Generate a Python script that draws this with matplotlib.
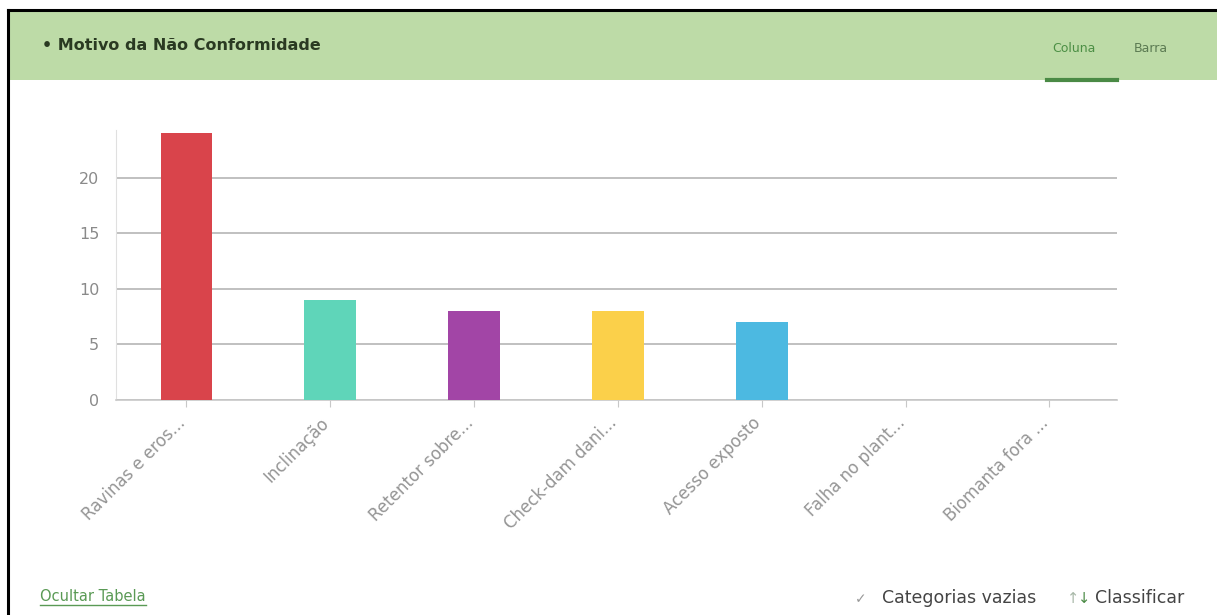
import matplotlib
matplotlib.use("Agg")
import matplotlib.pyplot as plt
from matplotlib.patches import Rectangle
from matplotlib.lines import Line2D
from matplotlib.transforms import ScaledTranslation

W, H = 1217, 615

categories = ["Ravinas e eros...", "Inclinação", "Retentor sobre...", "Check-dam dani...",
              "Acesso exposto", "Falha no plant...", "Biomanta fora ..."]
values = [24, 9, 8, 8, 7, 0, 0]
colors = ["#d9444b", "#5fd5b9", "#a245a6", "#fbd04a", "#4cb9e1", "#cccccc", "#cccccc"]
yticks = [0, 5, 10, 15, 20]


def fx(px):
    return px / W


def fy(py):
    return 1 - py / H


def main():
    fig = plt.figure(figsize=(W / 100, H / 100), dpi=100)
    fig.patch.set_facecolor("white")

    # header band
    fig.patches.append(Rectangle((fx(9), fy(80)), 1, fy(11) - fy(80),
                                 transform=fig.transFigure, facecolor="#bddba7",
                                 edgecolor="none", zorder=0))
    # black frame (left and top)
    fig.lines.append(Line2D([fx(8), fx(8)], [0, fy(10)], transform=fig.transFigure,
                            color="black", lw=2.2))
    fig.lines.append(Line2D([fx(8), 1], [fy(10), fy(10)], transform=fig.transFigure,
                            color="black", lw=2.2))

    fig.text(fx(42), fy(46), "• Motivo da Não Conformidade", fontsize=11.5,
             fontweight="bold", color="#2a3a22", va="center", ha="left")
    fig.text(fx(1074), fy(48), "Coluna", fontsize=9, color="#4c8f45",
             va="center", ha="center")
    fig.text(fx(1151), fy(48), "Barra", fontsize=9, color="#5b7a52",
             va="center", ha="center")
    fig.lines.append(Line2D([fx(1047), fx(1117)], [fy(80), fy(80)],
                            transform=fig.transFigure, color="#4a8a45", lw=3))

    ax = fig.add_axes([fx(116), fy(400), fx(1117) - fx(116), fy(130) - fy(400)])
    x = list(range(len(categories)))
    ax.bar(x, values, width=0.36, color=colors[:len(values)], zorder=3)
    ax.set_xlim(-0.49, 6.47)
    ax.set_ylim(0, 24.3)
    ax.set_yticks(yticks)
    ax.set_xticks(x)
    ax.set_xticklabels([])
    # category labels, rotated, nudged down-left of each tick
    lab_tr = ax.get_xaxis_transform() + ScaledTranslation(-10 / 100, -14 / 100,
                                                          fig.dpi_scale_trans)
    for xi, name in zip(x, categories):
        ax.text(xi, 0, name, transform=lab_tr, rotation=45, rotation_mode="anchor",
                ha="right", va="top", fontsize=12, color="#959595")
    ax.tick_params(axis="y", length=0, labelsize=11.5, labelcolor="#8a8a8a", pad=12)
    ax.tick_params(axis="x", length=5, color="#c8c8c8", pad=4)
    ax.yaxis.grid(True, color="#b5b5b5", lw=1.2, zorder=1)
    for s in ["top", "right"]:
        ax.spines[s].set_visible(False)
    ax.spines["left"].set_color("#e0e0e0")
    ax.spines["bottom"].set_color("#c8c8c8")
    ax.spines["bottom"].set_linewidth(1.2)

    t = fig.text(fx(40), fy(601), "Ocultar Tabela", fontsize=10.5, color="#5a9a55",
                 va="baseline", ha="left")
    fig.canvas.draw()
    bb = t.get_window_extent()
    fig.lines.append(Line2D([bb.x0 / W, bb.x1 / W], [fy(605), fy(605)],
                            transform=fig.transFigure, color="#5a9a55", lw=1))

    fig.text(fx(855), fy(603), "✓", fontsize=10, color="#999999",
             va="baseline", ha="left")
    fig.text(fx(1036), fy(603), "Categorias vazias", fontsize=12.5, color="#444444",
             va="baseline", ha="right")
    fig.text(fx(1067), fy(603), "↑", fontsize=10.5, color="#a8b8a8",
             va="baseline", ha="left")
    fig.text(fx(1078), fy(603), "↓", fontsize=10.5, color="#4a8a45",
             va="baseline", ha="left")
    fig.text(fx(1095), fy(603), "Classificar", fontsize=12.5, color="#444444",
             va="baseline", ha="left")

    fig.savefig("out.png", dpi=100)
    plt.close(fig)


if __name__ == "__main__":
    main()
